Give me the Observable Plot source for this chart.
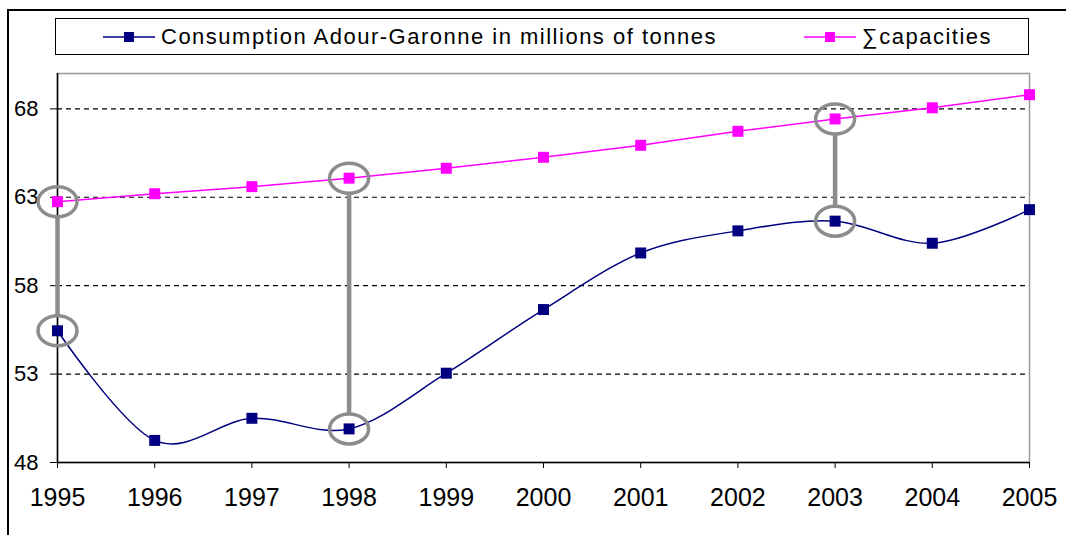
<!DOCTYPE html>
<html>
<head>
<meta charset="utf-8">
<script src="https://cdn.jsdelivr.net/npm/d3@7"></script>
<script src="https://cdn.jsdelivr.net/npm/@observablehq/plot@0.6"></script>
<style>
  html, body { margin: 0; padding: 0; background: #fff; }
  #wrap { position: relative; width: 1066px; height: 535px; overflow: hidden; font-family: "Liberation Sans", Arial, sans-serif; }
  #frame { position: absolute; left: 7px; top: 9px; width: 1200px; height: 700px; border-left: 2px solid #000; border-top: 2px solid #000; }
  #chart { position: absolute; left: 0; top: 0; }
  #legend { position: absolute; left: 55px; top: 18px; width: 972px; height: 35px; border: 1px solid #000; background: #fff; font-size: 22px; letter-spacing: 1.5px; color: #000; }
  .item { position: absolute; top: 0; height: 35px; display: flex; align-items: center; white-space: nowrap; }
  .item svg { margin-right: 6px; }
  .xax text { font-size: 25px; }
</style>
</head>
<body>
<div id="wrap">
  <div id="frame"></div>
  <div id="chart"></div>
  <div id="legend"></div>
</div>
<script>
const years = [1995, 1996, 1997, 1998, 1999, 2000, 2001, 2002, 2003, 2004, 2005];
const consumption = [55.45, 49.25, 50.5, 49.9, 53.05, 56.65, 59.85, 61.1, 61.65, 60.4, 62.3];
const capacities = [62.75, 63.2, 63.6, 64.08, 64.64, 65.26, 65.94, 66.73, 67.43, 68.06, 68.8];
const highlightYears = [1995, 1998, 2003];
const yTicks = [48, 53, 58, 63, 68];
const gridTicks = [53, 58, 63, 68];
const seriesNames = ["Consumption Adour-Garonne in millions of tonnes", "\u2211capacities"];
const colors = ["#000080", "#FF00FF"];

const cons = years.map((year, i) => ({year, value: consumption[i]}));
const caps = years.map((year, i) => ({year, value: capacities[i]}));
const hl = highlightYears.map(year => {
  const i = years.indexOf(year);
  return {year, low: consumption[i], high: capacities[i]};
});
const hlPoints = hl.flatMap(d => [{year: d.year, value: d.low}, {year: d.year, value: d.high}]);

const ellipse = {
  draw(context) {
    const rx = 19.5, ry = 15, k = 0.5523;
    context.moveTo(rx, 0);
    context.bezierCurveTo(rx, ry * k, rx * k, ry, 0, ry);
    context.bezierCurveTo(-rx * k, ry, -rx, ry * k, -rx, 0);
    context.bezierCurveTo(-rx, -ry * k, -rx * k, -ry, 0, -ry);
    context.bezierCurveTo(rx * k, -ry, rx, -ry * k, rx, 0);
    context.closePath();
  }
};

const chart = Plot.plot({
  width: 1066,
  height: 535,
  marginTop: 73,
  marginLeft: 57,
  marginRight: 37,
  marginBottom: 73,
  style: {fontFamily: "'Liberation Sans', Arial, sans-serif", fontSize: "22px", color: "#000", background: "transparent"},
  x: {domain: [1995, 2005], label: null},
  y: {domain: [48, 70], label: null},
  marks: [
    Plot.frame({stroke: "#999", strokeWidth: 1.5}),
    Plot.gridY(gridTicks, {stroke: "#000", strokeOpacity: 1, strokeWidth: 1.2, strokeDasharray: "5,4"}),
    Plot.axisX(years, {tickFormat: "d", tickSize: 6, tickPadding: 20, stroke: "#000", fill: "#000", label: null, className: "xax", fontSize: 25}),
    Plot.axisY(yTicks, {tickSize: 7, tickPadding: 12, stroke: "#000", fill: "#000", label: null}),
    Plot.ruleX([1995], {stroke: "#000", strokeWidth: 1.5}),
    Plot.ruleY([48], {stroke: "#000", strokeWidth: 1.5}),
    Plot.line(caps, {x: "year", y: "value", stroke: colors[1], strokeWidth: 1.5}),
    Plot.line(cons, {x: "year", y: "value", stroke: colors[0], strokeWidth: 1.5, curve: "cardinal"}),
    Plot.ruleX(hl, {x: "year", y1: "high", y2: "low", stroke: "#8c8c8c", strokeWidth: 4.5, insetTop: 15, insetBottom: 15}),
    Plot.dot(hlPoints, {x: "year", y: "value", symbol: ellipse, r: 10, stroke: "#8c8c8c", strokeWidth: 3.5, fill: "none"}),
    Plot.dot(caps, {x: "year", y: "value", symbol: "square", r: 6.2, fill: colors[1], stroke: "none"}),
    Plot.dot(cons, {x: "year", y: "value", symbol: "square", r: 6.2, fill: colors[0], stroke: "none"})
  ]
});
document.getElementById("chart").appendChild(chart);

const legend = document.getElementById("legend");
const lefts = [47, 748];
seriesNames.forEach((name, i) => {
  const item = document.createElement("div");
  item.className = "item";
  item.style.left = lefts[i] + "px";
  item.innerHTML = `<svg width="52" height="14"><line x1="0" y1="7" x2="52" y2="7" stroke="${colors[i]}" stroke-width="1.5"/><rect x="21" y="2" width="10" height="10" fill="${colors[i]}"/></svg>`;
  const span = document.createElement("span");
  span.textContent = name;
  item.appendChild(span);
  legend.appendChild(item);
});
</script>
</body>
</html>
